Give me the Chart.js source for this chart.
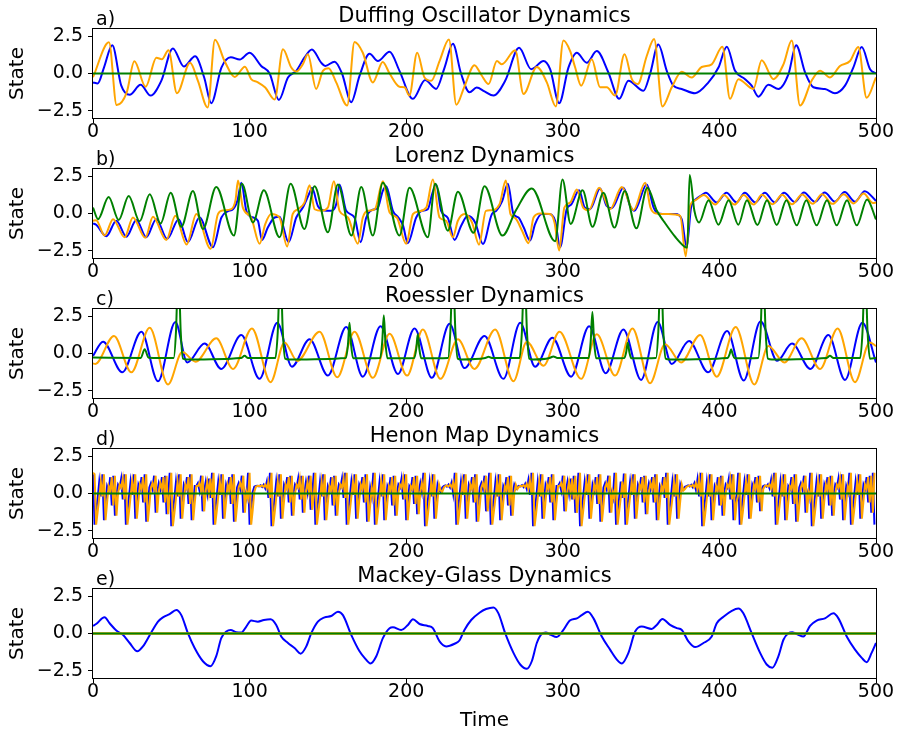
<!DOCTYPE html>
<html>
<head>
<meta charset="utf-8">
<title>Dynamics</title>
<script src="https://cdn.jsdelivr.net/npm/chart.js@4.4.1/dist/chart.umd.min.js"></script>
<style>
  html, body { margin: 0; padding: 0; background: #ffffff; }
  #figure { position: relative; width: 898px; height: 732px; overflow: hidden; }
  #figure canvas { position: absolute; left: 0; }
</style>
</head>
<body>
<div id="figure">
  <canvas id="duffingChart" width="898" height="150" style="top:0px"></canvas>
  <canvas id="lorenzChart" width="898" height="150" style="top:140px"></canvas>
  <canvas id="roesslerChart" width="898" height="150" style="top:280px"></canvas>
  <canvas id="henonChart" width="898" height="150" style="top:420px"></canvas>
  <canvas id="mackeyChart" width="898" height="172" style="top:560px"></canvas>
</div>
<script>
// tick labels
var xTickValues = [0, 100, 200, 300, 400, 500];
var yTickValues = [-2.5, 0.0, 2.5];

// a) Duffing, [time, state]
var duffingX = [[0,-0.6],[3,-0.67],[7,0.4],[12.3,1.9],[18,-0.8],[23.4,-1.44],[30.4,-0.76],[36.8,-1.49],[43.6,-0.5],[51,1.69],[58,0.47],[65.2,1.16],[71,-0.27],[75.5,-2.0],[82,0.4],[88,1.1],[93.7,0.94],[100,1.4],[107.4,0.51],[112.8,0],[118.7,-1.78],[124.5,-0.27],[129.8,0.18],[135,1.07],[139.8,1.62],[145.7,0.73],[148.3,0.51],[154.3,0.8],[159,0],[164.9,-1.93],[170.2,-0.16],[176.6,1.33],[181.9,0.84],[189.4,1.47],[195.7,0.18],[204.3,-1.71],[212.1,-0.44],[219.1,-1.04],[224.5,0.4],[229.8,2.0],[235,0],[240.4,-1.27],[245,-0.95],[250,-1.2],[255.7,-1.49],[263.2,-0.49],[272.1,1.73],[279.8,0.29],[287.7,0.84],[291.9,0.29],[297.7,-2.0],[303.6,0.4],[308.9,1.4],[315.3,0.73],[321.7,1.51],[329.1,0.07],[336,-1.71],[341.9,-0.49],[351.5,-1.16],[355.7,-0.04],[361,1.96],[366.4,0.18],[370.6,-0.82],[375.9,-1.04],[384.5,-1.33],[393,-0.6],[399.4,0.4],[404.7,1.8],[410,0.18],[416.4,-0.38],[420.6,-0.82],[424.9,-1.56],[431.3,-0.76],[437.7,-1.04],[444.1,-0.04],[449,1.91],[454.7,0.07],[460,-0.93],[467.4,-1.04],[473.8,-1.33],[480.2,-0.82],[485.5,0.4],[490.9,1.78],[496.2,0.29],[500,0.0]];
var duffingY = [[0,-0.25],[10.2,2.1],[15.1,-2.13],[21.5,-1.29],[26.4,0.83],[33.6,-0.89],[40.5,1.06],[44,0.96],[48.2,1.56],[53.6,-1.33],[62,0.72],[67,-0.49],[73.2,-2.29],[77.9,2.28],[84,0.84],[90.5,-0.23],[97,0.46],[101,-0.38],[105,-0.58],[110,-0.94],[116,-1.75],[121.3,1.63],[126.6,0.4],[129.8,0.13],[134,0.62],[137.2,1.29],[142.5,-1.04],[146.8,0.18],[150.4,0.36],[155.3,-0.6],[162.3,-2.16],[167,2.13],[172.3,1.4],[178.7,-0.6],[185,0.78],[189.4,0],[195.7,-0.89],[199,-0.93],[202,-1.49],[207,1.4],[211.7,-0.27],[216,-0.49],[221.3,0.84],[227.3,2.29],[232,-2.1],[237,-0.93],[243.6,0.56],[248,-0.1],[252.6,-0.71],[257.9,0.84],[261.1,0.62],[269.6,1.56],[274.9,-1.38],[283.4,0.44],[289.8,-0.6],[295.5,-2.22],[300.4,2.22],[304.7,1.51],[307.9,0.4],[311.7,-0.82],[318.5,0.96],[323.8,-0.93],[328.1,-0.93],[333.4,-1.49],[339.4,1.29],[344.1,-0.38],[347.9,-0.71],[353.6,1.18],[358.3,2.33],[363.6,-2.22],[369.6,-0.93],[375.9,0.11],[382.3,-0.27],[388.7,0.44],[395.1,0.62],[401.9,1.8],[406.8,-1.71],[412.1,-0.38],[421.7,-1.04],[427,0.89],[434.5,-0.38],[440.9,0.62],[446.2,2.22],[451.5,-2.16],[458.9,-0.49],[464.3,0.18],[470.6,-0.27],[477,0.51],[483.4,0.84],[488.7,1.78],[494,-1.64],[500,-0.27]];
var duffingZ = [[0,0],[500,0]];

// b) Lorenz
var lorenzX = [[0,-0.67],[2,-0.76],[8.5,-1.53],[14.9,-0.49],[21.3,-1.56],[27.7,-0.44],[34,-1.6],[40.4,-0.38],[47.4,-1.71],[54.7,-0.38],[60.6,-1.93],[68,-0.27],[76.6,-2.27],[82,-0.27],[86,0.15],[89.5,0.3],[92.3,0.9],[94.7,2.07],[97.9,0.18],[101,-0.22],[105.3,-0.49],[107.9,-1.78],[111.7,-0.93],[116,-0.27],[119.1,-0.22],[124.9,-1.93],[129.8,-0.27],[134,0.4],[138.3,1.4],[139.8,1.73],[143.6,0.51],[146.8,0.22],[152.1,0.18],[155.3,0.62],[157.4,1.96],[161.7,0.18],[167,-0.27],[170.9,-1.93],[174.5,-0.27],[178,0.22],[181.9,0.4],[185,1.51],[187.2,1.84],[191.5,0.18],[195,-0.27],[198,-0.82],[201,-2.0],[206.4,-0.27],[210,0.18],[213.8,0.29],[216.5,1.29],[219.1,1.96],[222.3,0.18],[226.6,-0.31],[230.9,-1.78],[235.1,-0.82],[239.4,-0.16],[244,-0.6],[249,-2.05],[254.7,-0.04],[257.5,0.18],[261.3,0.84],[264.9,2.0],[268.5,-0.04],[271.7,-0.27],[275,-0.93],[279.1,-1.82],[282.3,-0.71],[286.6,-0.04],[291,-0.04],[295.1,-0.49],[298.3,-2.27],[302.5,0.29],[305.5,0.62],[310.4,1.56],[314,0.4],[317.4,0.29],[323.8,1.69],[328,0.51],[331.3,0.36],[338.7,1.73],[343,0.5],[345.7,0.18],[353.6,1.96],[358,0.4],[361,0.0],[367.4,-0.04],[372,-0.04],[375.9,-0.38],[379.1,-2.27],[381.9,0.4],[385,0.96],[388.7,1.24],[391.3,1.4],[398.3,0.75],[404.5,1.4],[411,0.75],[416.2,1.4],[423,0.75],[429,1.4],[435.3,0.75],[441.3,1.4],[448.1,0.78],[454,1.42],[461,0.78],[467.2,1.42],[473.8,0.8],[480,1.45],[486.6,0.8],[492.8,1.5],[500,0.85]];
var lorenzY = [[0,-0.49],[2,-0.45],[7.4,-1.49],[12.8,-0.38],[20.2,-1.6],[25.5,-0.27],[33.4,-1.64],[38.3,-0.22],[46.8,-1.78],[52.6,-0.16],[59.8,-2.09],[66,-0.04],[75.1,-2.38],[79.8,-0.04],[83,0.2],[88.3,0.29],[91,0.9],[92.6,2.22],[95.7,0.4],[101,-0.27],[106.4,-2.04],[110,-0.71],[113.8,-0.04],[119.1,-0.27],[124,-2.22],[127.5,-0.04],[130.9,0.29],[135,0.73],[138.3,1.91],[141.5,0.29],[146,0.18],[150,0.4],[153.8,2.18],[157.4,0.18],[162.8,-0.27],[169.1,-2.04],[172.3,-0.27],[175.5,0.18],[180,0.29],[185.1,2.18],[189.4,0.07],[194,-0.27],[200,-2.04],[204.3,-0.04],[207.5,0.13],[212.8,0.4],[217,2.29],[221.3,-0.27],[225.5,-0.49],[229.8,-1.6],[233,-0.49],[237.2,-0.04],[242,-0.6],[246.5,-2.1],[250.9,0.18],[254,0.22],[259.6,0.62],[263.6,2.22],[266.6,-0.04],[269.6,-0.31],[274,-1.16],[278.1,-2.0],[281.3,-0.27],[285.5,0.0],[291.9,-0.04],[294.7,-0.6],[297.7,-2.49],[301,0.4],[304.7,0.73],[309,1.62],[313,0.4],[316.6,0.22],[323.2,1.73],[330.2,0.29],[337.7,1.78],[345.1,0.22],[352.6,2.07],[356,0.4],[360,0.0],[367.4,-0.04],[375,-0.16],[378.5,-2.89],[381.3,0.51],[384.5,0.89],[390,1.24],[397.4,0.6],[402.8,1.24],[409.6,0.6],[415.5,1.24],[421.9,0.6],[427.2,1.26],[434,0.62],[440,1.26],[446.4,0.62],[452.8,1.28],[459.6,0.65],[465.5,1.3],[472.3,0.65],[479.4,1.3],[485.7,0.68],[492.1,1.35],[498.1,0.7],[500,0.75]];
var lorenzZ = [[0,0.4],[3.2,-0.38],[10,1.11],[16.4,-0.44],[22.8,1.18],[29.8,-0.53],[36.2,1.29],[43.2,-0.67],[49.6,1.4],[56.4,-0.89],[63.8,1.51],[70.2,-1.04],[78.7,1.78],[90,-1.49],[95.1,2.0],[102.1,-0.6],[109.1,1.56],[119.1,-1.6],[126.2,2.0],[135,-1.04],[141.5,1.84],[150,-1.27],[156.4,1.96],[165,-1.49],[171.3,1.78],[178.7,-1.49],[185.1,2.07],[195.7,-1.49],[202.1,1.73],[213.8,-1.6],[218.5,2.0],[226.6,-1.16],[233,1.47],[243,-1.3],[250,1.84],[261.5,-1.49],[270,0.2],[280.2,1.69],[295.1,-1.87],[299.8,2.29],[305,-0.7],[312.6,1.56],[319,-0.9],[325.9,1.4],[333,-0.95],[339.6,1.51],[347,-1.0],[354,1.73],[360,0.2],[365,-0.6],[372,-1.6],[378,-2.25],[379.5,-2.3],[381,2.6],[384,0.2],[387,-0.6],[393.1,0.9],[399.4,-0.75],[405.9,0.9],[412.1,-0.75],[417.6,0.9],[424.3,-0.78],[430.4,0.9],[436.6,-0.78],[442.8,0.9],[449.4,-0.8],[455.5,0.9],[462.1,-0.8],[468.7,0.9],[474.9,-0.8],[481.5,0.9],[487.7,-0.8],[494.3,0.95],[500,-0.4]];

// c) Roessler
var roesslerX = [[0,-0.16],[6.4,0.8],[18.7,-1.27],[30.9,1.47],[41.5,-1.87],[52.6,2.13],[60.2,-0.6],[71.3,0.67],[81.9,-1.04],[94.7,1.24],[106.4,-1.71],[117.7,2.07],[127,-0.89],[138.3,0.96],[150,-1.49],[161.7,1.78],[172.3,-1.56],[183.6,1.84],[194.7,-1.38],[205.3,1.69],[216.4,-1.64],[227.7,2.0],[237.2,-0.98],[250,1.18],[262.1,-1.71],[272.8,2.07],[282.3,-0.89],[293.4,1.07],[305.3,-1.56],[316.8,1.84],[327.4,-1.33],[338.7,1.62],[350,-1.78],[360.6,2.13],[369.6,-0.71],[380.6,0.84],[392.8,-1.27],[404.9,1.51],[415.5,-1.82],[426.3,2.18],[436.9,-0.49],[446.4,0.67],[458.1,-1.04],[469.6,1.24],[480.2,-1.78],[491.3,2.07],[500,-0.6]];
var roesslerY = [[0,-0.67],[1.5,-0.7],[13.4,1.18],[24.5,-1.27],[36.2,1.73],[47.9,-2.09],[57,0.1],[65.5,-0.55],[78.7,1.02],[89.4,-1.04],[101.5,1.69],[113.4,-1.93],[122.3,0.75],[130.4,-0.5],[144.7,1.47],[156,-1.6],[167,1.47],[178.7,-1.64],[189.4,1.33],[200.6,-1.49],[210.6,1.62],[221.9,-1.71],[233,0.96],[243.6,-1.04],[256.8,1.62],[268.5,-1.87],[277,0.8],[287.7,-0.82],[297.9,1.47],[311.7,-1.71],[321.7,1.29],[333.4,-1.49],[344.5,1.69],[355.7,-2.0],[365.3,0.62],[375.5,-0.6],[387.7,1.24],[398.3,-1.56],[410.4,1.78],[422.3,-2.09],[431.3,0.51],[441.5,-0.6],[452.5,1.02],[464.3,-1.04],[475.5,1.69],[486.6,-1.93],[496,0.75],[500,0.5]];
var roesslerZ = [[0,-0.27],[30.5,-0.3],[33,0.29],[35.5,-0.28],[51.5,-0.3],[53,1.5],[54.5,6],[56,1.5],[57.5,-0.35],[60,-0.4],[94.5,-0.3],[96.8,-0.16],[99,-0.3],[116.5,-0.3],[118,1.5],[119.6,6],[121.2,1.5],[122.7,-0.35],[125,-0.4],[161.5,-0.3],[162.8,0.6],[163.8,2.07],[164.8,0.6],[166.1,-0.32],[183.4,-0.3],[184.7,0.8],[185.7,2.58],[186.7,0.8],[188,-0.32],[205.2,-0.3],[206.4,0.3],[207.4,1.29],[208.4,0.3],[209.6,-0.32],[226.7,-0.3],[228.2,1.5],[229.8,6],[231.4,1.5],[232.9,-0.35],[235,-0.4],[250.5,-0.3],[252.6,-0.22],[254.7,-0.3],[272.4,-0.3],[273.9,1.5],[275.5,6],[277.1,1.5],[278.6,-0.35],[281,-0.4],[291.5,-0.3],[294,-0.2],[296.5,-0.3],[316.5,-0.3],[317.8,0.8],[318.9,2.8],[320,0.8],[321.3,-0.32],[339.3,-0.3],[340.5,0.1],[341.5,0.73],[342.5,0.1],[343.7,-0.32],[359.5,-0.3],[361,1.5],[362.6,6],[364.2,1.5],[365.7,-0.35],[368,-0.4],[405.3,-0.3],[406.5,-0.05],[407.5,0.29],[408.5,-0.05],[409.7,-0.32],[424.8,-0.3],[426.3,1.5],[427.9,6],[429.5,1.5],[431,-0.35],[433.5,-0.4],[468.3,-0.3],[470.6,-0.16],[472.9,-0.3],[489.9,-0.3],[491.4,1.5],[493,6],[494.6,1.5],[496.1,-0.35],[500,-0.3]];

// d) Henon map, one value per step
var henonX = [
  1.3, -2.1, -1.2, -0.3, 0.8, -0.2, 1.3, -1.8, -0.6, 0.5,
  0.2, 1.1, -0.8, 1.2, -1.5, 0.0, 0.6, 0.4, 1.0, -0.4,
  1.3, -2.1, -1.2, -0.2, 0.8, -0.1, 1.3, -1.7, -0.5, 0.6,
  0.3, 1.1, -0.6, 1.3, -1.9, -0.8, 0.4, 0.7, 0.3, 1.2,
  -1.3, 0.1, 0.7, 0.3, 1.1, -0.6, 1.2, -1.4, -0.1, 1.4,
  -2.2, -1.3, -0.3, 0.8, -0.2, 1.3, -1.7, -0.5, 0.6, 0.3,
  1.1, -0.7, 1.3, -1.8, -0.6, 0.5, 0.5, 0.7, 0.2, 1.2,
  -1.2, 0.2, 0.8, 0.0, 1.0, -0.3, 1.4, -2.1, -1.2, -0.2,
  0.8, -0.1, 1.3, -1.7, -0.5, 0.6, 0.2, 1.1, -0.7, 1.3,
  -1.9, -0.8, 0.4, 0.7, 0.3, 1.2, -1.3, 0.1, -0.3, 1.4,
  -2.1, -1.1, 0.1, 0.45, 0.5, 0.52, 0.48, 0.55, 0.44, 0.6,
  0.35, 0.8, -0.3, 1.4, -2.2, -1.3, -0.3, 0.8, -0.2, 1.3,
  -1.7, -0.5, 0.6, 0.3, 1.1, -0.6, 1.2, -1.5, 0.0, 0.6,
  0.4, 1.0, -0.4, 1.2, -1.3, 0.1, 0.8, 0.1, 1.2, -1.1,
  -0.1, 1.4, -2.1, -1.2, -0.3, 0.8, -0.2, 1.3, -1.8, -0.6,
  0.5, 0.2, 1.1, -0.8, 1.2, -1.5, 0.0, 0.6, 0.4, 1.0,
  -0.3, 1.4, -2.1, -1.2, -0.2, 0.8, -0.1, 1.3, -1.7, -0.5,
  0.6, 0.3, 1.1, -0.6, 1.3, -1.9, -0.8, 0.4, -0.2, 1.4,
  -2.1, -1.2, -0.3, 0.8, -0.2, 1.3, -1.8, -0.6, 0.5, 0.2,
  1.1, -0.8, 1.2, -1.5, 0.0, 0.6, 0.4, 1.0, -0.4, 1.3,
  -1.8, -0.6, 0.5, 0.3, 1.1, -0.7, 1.2, -1.4, 0.1, 0.7,
  0.1, 1.4, -2.2, -1.3, -0.3, 0.8, -0.2, 1.3, -1.7, -0.5,
  0.6, 0.2, 0.1, 0.4, 0.5, 0.55, 0.47, 0.6, 0.4, 0.75,
  0.0, 1.4, -2.1, -1.2, -0.2, 0.8, -0.1, 1.3, -1.7, -0.5,
  0.6, 0.3, 1.1, -0.6, 1.3, -1.9, -0.8, 0.4, 0.7, 0.3,
  1.2, -1.2, -0.1, 1.4, -2.1, -1.2, -0.3, 0.8, -0.2, 1.3,
  -1.8, -0.6, 0.5, 0.2, 1.1, -0.8, 1.2, -1.5, 0.0, 0.6,
  0.3, 0.45, 0.52, 0.48, 0.56, 0.43, 0.65, 0.3, 0.9, -0.1,
  1.4, -2.2, -1.3, -0.3, 0.8, -0.2, 1.3, -1.7, -0.5, 0.6,
  0.3, 1.1, -0.6, 1.3, -1.8, -0.6, 0.5, 0.5, 0.7, 0.2,
  1.2, -1.2, 0.2, 0.8, 0.0, 1.0, -0.4, 1.2, -1.3, -0.2,
  1.4, -2.2, -1.2, -0.2, 0.8, -0.1, 1.3, -1.7, -0.5, 0.6,
  0.2, 1.1, -0.7, 1.3, -1.9, -0.8, 0.4, 0.7, 0.3, 1.2,
  -1.3, 0.1, -0.3, 1.4, -2.1, -1.2, -0.3, 0.8, -0.3, 1.35,
  -2.1, -1.1, -0.2, 0.8, -0.1, 1.3, -1.7, -0.5, 0.6, 0.3,
  1.1, -0.6, 1.2, -1.4, 0.1, 0.7, 0.3, 1.1, -0.6, 1.3,
  -1.8, -0.6, 0.5, 0.2, 1.1, -0.3, 1.4, -2.1, -1.2, -0.3,
  0.8, -0.2, 1.3, -1.7, -0.5, 0.6, 0.2, 0.3, 0.45, 0.5,
  0.55, 0.48, 0.58, 0.42, 0.7, 0.25, 0.95, -0.2, 1.4, -2.2,
  -1.3, -0.3, 0.8, -0.2, 1.3, -1.8, -0.6, 0.5, 0.2, 1.1,
  -0.8, 1.2, -1.5, 0.0, 0.6, 0.4, 1.0, -0.4, 1.3, -1.8,
  -0.6, -0.1, 1.4, -2.1, -1.2, -0.2, 0.8, -0.1, 1.3, -1.7,
  -0.5, 0.6, 0.3, 1.1, -0.6, 1.2, -1.2, 0.3, 0.5, 0.55,
  0.47, 0.62, 0.35, 0.9, -0.2, 1.4, -2.1, -1.2, -0.3, 0.8,
  -0.2, 1.3, -1.8, -0.6, 0.5, 0.3, 1.1, -0.7, 1.3, -1.9,
  -0.8, 0.4, 0.7, 0.3, 1.2, -1.3, 0.1, -0.3, 1.4, -2.2,
  -1.3, -0.3, 0.8, -0.2, 1.3, -1.7, -0.5, 0.6, 0.2, 1.1,
  -0.8, 1.2, -1.5, 0.0, 0.6, 0.4, 1.0, -0.4, 1.3, -1.8,
  -0.6, 0.5, 0.1, 1.4, -2.1, -1.2, -0.2, 0.8, -0.1, 1.3,
  -1.7, -0.5, 0.6, 0.3, 1.1, -0.6, 1.2, -1.3, 1.4, -2.1
];
var henonY = [
  1.4, 1.3, -2.1, -1.2, -0.3, 0.8, -0.2, 1.3, -1.8, -0.6,
  0.5, 0.2, 1.1, -0.8, 1.2, -1.5, 0.0, 0.6, 0.4, 1.0,
  -0.4, 1.3, -2.1, -1.2, -0.2, 0.8, -0.1, 1.3, -1.7, -0.5,
  0.6, 0.3, 1.1, -0.6, 1.3, -1.9, -0.8, 0.4, 0.7, 0.3,
  1.2, -1.3, 0.1, 0.7, 0.3, 1.1, -0.6, 1.2, -1.4, -0.1,
  1.4, -2.2, -1.3, -0.3, 0.8, -0.2, 1.3, -1.7, -0.5, 0.6,
  0.3, 1.1, -0.7, 1.3, -1.8, -0.6, 0.5, 0.5, 0.7, 0.2,
  1.2, -1.2, 0.2, 0.8, 0.0, 1.0, -0.3, 1.4, -2.1, -1.2,
  -0.2, 0.8, -0.1, 1.3, -1.7, -0.5, 0.6, 0.2, 1.1, -0.7,
  1.3, -1.9, -0.8, 0.4, 0.7, 0.3, 1.2, -1.3, 0.1, -0.3,
  1.4, -2.1, -1.1, 0.1, 0.45, 0.5, 0.52, 0.48, 0.55, 0.44,
  0.6, 0.35, 0.8, -0.3, 1.4, -2.2, -1.3, -0.3, 0.8, -0.2,
  1.3, -1.7, -0.5, 0.6, 0.3, 1.1, -0.6, 1.2, -1.5, 0.0,
  0.6, 0.4, 1.0, -0.4, 1.2, -1.3, 0.1, 0.8, 0.1, 1.2,
  -1.1, -0.1, 1.4, -2.1, -1.2, -0.3, 0.8, -0.2, 1.3, -1.8,
  -0.6, 0.5, 0.2, 1.1, -0.8, 1.2, -1.5, 0.0, 0.6, 0.4,
  1.0, -0.3, 1.4, -2.1, -1.2, -0.2, 0.8, -0.1, 1.3, -1.7,
  -0.5, 0.6, 0.3, 1.1, -0.6, 1.3, -1.9, -0.8, 0.4, -0.2,
  1.4, -2.1, -1.2, -0.3, 0.8, -0.2, 1.3, -1.8, -0.6, 0.5,
  0.2, 1.1, -0.8, 1.2, -1.5, 0.0, 0.6, 0.4, 1.0, -0.4,
  1.3, -1.8, -0.6, 0.5, 0.3, 1.1, -0.7, 1.2, -1.4, 0.1,
  0.7, 0.1, 1.4, -2.2, -1.3, -0.3, 0.8, -0.2, 1.3, -1.7,
  -0.5, 0.6, 0.2, 0.1, 0.4, 0.5, 0.55, 0.47, 0.6, 0.4,
  0.75, 0.0, 1.4, -2.1, -1.2, -0.2, 0.8, -0.1, 1.3, -1.7,
  -0.5, 0.6, 0.3, 1.1, -0.6, 1.3, -1.9, -0.8, 0.4, 0.7,
  0.3, 1.2, -1.2, -0.1, 1.4, -2.1, -1.2, -0.3, 0.8, -0.2,
  1.3, -1.8, -0.6, 0.5, 0.2, 1.1, -0.8, 1.2, -1.5, 0.0,
  0.6, 0.3, 0.45, 0.52, 0.48, 0.56, 0.43, 0.65, 0.3, 0.9,
  -0.1, 1.4, -2.2, -1.3, -0.3, 0.8, -0.2, 1.3, -1.7, -0.5,
  0.6, 0.3, 1.1, -0.6, 1.3, -1.8, -0.6, 0.5, 0.5, 0.7,
  0.2, 1.2, -1.2, 0.2, 0.8, 0.0, 1.0, -0.4, 1.2, -1.3,
  -0.2, 1.4, -2.2, -1.2, -0.2, 0.8, -0.1, 1.3, -1.7, -0.5,
  0.6, 0.2, 1.1, -0.7, 1.3, -1.9, -0.8, 0.4, 0.7, 0.3,
  1.2, -1.3, 0.1, -0.3, 1.4, -2.1, -1.2, -0.3, 0.8, -0.3,
  1.35, -2.1, -1.1, -0.2, 0.8, -0.1, 1.3, -1.7, -0.5, 0.6,
  0.3, 1.1, -0.6, 1.2, -1.4, 0.1, 0.7, 0.3, 1.1, -0.6,
  1.3, -1.8, -0.6, 0.5, 0.2, 1.1, -0.3, 1.4, -2.1, -1.2,
  -0.3, 0.8, -0.2, 1.3, -1.7, -0.5, 0.6, 0.2, 0.3, 0.45,
  0.5, 0.55, 0.48, 0.58, 0.42, 0.7, 0.25, 0.95, -0.2, 1.4,
  -2.2, -1.3, -0.3, 0.8, -0.2, 1.3, -1.8, -0.6, 0.5, 0.2,
  1.1, -0.8, 1.2, -1.5, 0.0, 0.6, 0.4, 1.0, -0.4, 1.3,
  -1.8, -0.6, -0.1, 1.4, -2.1, -1.2, -0.2, 0.8, -0.1, 1.3,
  -1.7, -0.5, 0.6, 0.3, 1.1, -0.6, 1.2, -1.2, 0.3, 0.5,
  0.55, 0.47, 0.62, 0.35, 0.9, -0.2, 1.4, -2.1, -1.2, -0.3,
  0.8, -0.2, 1.3, -1.8, -0.6, 0.5, 0.3, 1.1, -0.7, 1.3,
  -1.9, -0.8, 0.4, 0.7, 0.3, 1.2, -1.3, 0.1, -0.3, 1.4,
  -2.2, -1.3, -0.3, 0.8, -0.2, 1.3, -1.7, -0.5, 0.6, 0.2,
  1.1, -0.8, 1.2, -1.5, 0.0, 0.6, 0.4, 1.0, -0.4, 1.3,
  -1.8, -0.6, 0.5, 0.1, 1.4, -2.1, -1.2, -0.2, 0.8, -0.1,
  1.3, -1.7, -0.5, 0.6, 0.3, 1.1, -0.6, 1.2, -1.3, 1.4
];
var henonZ = [[0,0],[500,0]];

// e) Mackey-Glass
var mackeyX = [[0,0.51],[2,0.64],[7.4,1.09],[10.6,0.69],[14.9,0.2],[19.1,-0.09],[23.4,-0.64],[28.3,-1.2],[31.9,-0.87],[37.2,0.07],[41.5,0.8],[44.7,1.09],[48.9,1.31],[53.2,1.58],[56.4,1.24],[60.6,0.02],[64.9,-0.98],[70.2,-1.87],[75.1,-2.2],[78.7,-1.53],[81.9,-0.31],[85.1,0.13],[87.9,0.24],[91.5,0.09],[94.7,0.07],[97.9,0.47],[101,0.87],[105.3,0.8],[109.1,0.91],[113.4,0.96],[117,0.58],[120.2,-0.2],[124.5,-0.64],[128.7,-0.98],[132.6,-1.36],[136.2,-0.87],[139.4,0.02],[143.6,0.8],[147.9,1.09],[152.1,1.18],[156.4,1.47],[159.6,1.24],[164.9,-0.09],[170.2,-1.2],[173.4,-1.64],[177.2,-2.02],[180.9,-1.53],[185.1,-0.31],[189.4,0.36],[191.5,0.42],[196.8,0.24],[201.1,0.58],[204.3,0.96],[208.5,0.64],[213.8,0.51],[217,0.36],[221.3,-0.53],[225.5,-0.87],[230.9,-0.69],[234,-0.47],[237.2,0.24],[241.5,0.91],[246.8,1.4],[251,1.65],[255.7,1.76],[258.9,1.36],[263.2,0.02],[268.5,-1.31],[272.8,-2.09],[277,-2.38],[280.2,-1.87],[283.4,-0.64],[286.6,-0.02],[289.1,0.07],[292.3,-0.09],[296.1,-0.24],[300.4,0.24],[304.5,0.87],[309,1.02],[312.1,1.24],[316,1.47],[319.6,1.02],[324.9,-0.2],[330.2,-1.09],[334.5,-1.76],[337.7,-2.02],[341.9,-1.31],[346.2,0.13],[350.4,0.47],[356.8,0.31],[360,0.58],[363.6,0.98],[368.5,0.58],[372.8,0.36],[376,0.24],[380.2,-0.53],[384.5,-0.91],[389.8,-0.64],[395.1,-0.2],[398.3,0.69],[402.6,1.13],[407.9,1.53],[412.1,1.69],[415.3,1.36],[420.6,0.02],[426,-1.31],[430.2,-2.09],[433.8,-2.31],[437.7,-1.53],[440.9,-0.42],[444,0.02],[446.6,0.09],[450.4,-0.09],[453.6,-0.2],[457.9,0.51],[462.1,0.87],[467.4,1.02],[472.8,1.36],[476,1.02],[481.3,-0.2],[486.6,-1.09],[490.9,-1.64],[494,-1.93],[497.2,-1.31],[500,-0.64]];
var mackeyY = [[0,0],[500,0]];
var mackeyZ = [[0,0],[500,0]];

var BLUE = "#0000ff";
var ORANGE = "#ffa500";
var GREEN = "#008000";
var TICK_FONT = { family: "'DejaVu Sans', sans-serif", size: 19 };
var LABEL_FONT = { family: "'DejaVu Sans', sans-serif", size: 20 };
var TITLE_CSS = "21px 'DejaVu Sans', sans-serif";
var TAG_CSS = "19px 'DejaVu Sans', sans-serif";

function smoothLine(points, color, order, width) {
  return {
    data: points.map(function (p) { return { x: p[0], y: p[1] }; }),
    borderColor: color,
    borderWidth: width || 2,
    pointRadius: 0,
    fill: false,
    cubicInterpolationMode: "monotone",
    order: order,
    clip: 0,
  };
}

function stepLine(values, color, order) {
  return {
    data: values.map(function (v, i) { return { x: i, y: v }; }),
    borderColor: color,
    borderWidth: 2,
    pointRadius: 0,
    fill: false,
    tension: 0,
    order: order,
    clip: 0,
  };
}

function fmtState(v) {
  return Number(v).toFixed(1).replace("-", "\u2212");
}

// frame around the plot + panel title + letter
var framePlugin = {
  id: "frame",
  afterDraw: function (chart, args, opts) {
    var ctx = chart.ctx;
    var a = chart.chartArea;
    ctx.save();
    ctx.strokeStyle = "#000";
    ctx.lineWidth = 1;
    ctx.strokeRect(Math.round(a.left) - 0.5, Math.round(a.top) - 0.5,
      Math.round(a.right - a.left) + 1, Math.round(a.bottom - a.top) + 1);
    ctx.fillStyle = "#000";
    ctx.textBaseline = "alphabetic";
    ctx.font = TITLE_CSS;
    ctx.textAlign = "center";
    ctx.fillText(opts.title, (a.left + a.right) / 2, a.top - 7);
    ctx.font = TAG_CSS;
    ctx.textAlign = "left";
    ctx.fillText(opts.tag, a.left + 3, a.top - 4);
    ctx.restore();
  },
};

function makePanel(id, title, tag, datasets, showTime) {
  var canvas = document.getElementById(id);
  var axisHeight = canvas.height - 118;
  return new Chart(canvas.getContext("2d"), {
    type: "line",
    data: { datasets: datasets },
    options: {
      responsive: false,
      animation: false,
      devicePixelRatio: 1,
      layout: { padding: { left: 0, right: 22, top: 29, bottom: 0 } },
      scales: {
        x: {
          type: "linear",
          min: 0,
          max: 500,
          afterBuildTicks: function (s) {
            s.ticks = xTickValues.map(function (v) { return { value: v }; });
          },
          afterFit: function (s) { s.height = axisHeight; },
          ticks: {
            font: TICK_FONT,
            color: "#000",
            padding: -2,
            maxRotation: 0,
            autoSkip: false,
            callback: function (v) { return String(v); },
          },
          grid: { drawOnChartArea: false, tickLength: 5, color: "#000" },
          border: { display: false },
          title: {
            display: showTime,
            text: "Time",
            font: LABEL_FONT,
            color: "#000",
            padding: { top: 0, bottom: -1 },
          },
        },
        y: {
          min: -3,
          max: 3,
          afterBuildTicks: function (s) {
            s.ticks = yTickValues.map(function (v) { return { value: v }; });
          },
          afterFit: function (s) { s.width = 93; },
          ticks: { font: TICK_FONT, color: "#000", padding: 5, callback: fmtState },
          grid: { drawOnChartArea: false, tickLength: 5, color: "#000" },
          border: { display: false },
          title: {
            display: true,
            text: "State",
            font: LABEL_FONT,
            color: "#000",
            padding: { top: 6, bottom: 0 },
          },
        },
      },
      plugins: {
        legend: { display: false },
        tooltip: { enabled: false },
        frame: { title: title, tag: tag },
      },
    },
    plugins: [framePlugin],
  });
}

makePanel("duffingChart", "Duffing Oscillator Dynamics", "a)", [
  smoothLine(duffingX, BLUE, 3),
  smoothLine(duffingY, ORANGE, 2),
  smoothLine(duffingZ, GREEN, 1),
], false);

makePanel("lorenzChart", "Lorenz Dynamics", "b)", [
  smoothLine(lorenzX, BLUE, 3),
  smoothLine(lorenzY, ORANGE, 2),
  smoothLine(lorenzZ, GREEN, 1),
], false);

makePanel("roesslerChart", "Roessler Dynamics", "c)", [
  smoothLine(roesslerX, BLUE, 3),
  smoothLine(roesslerY, ORANGE, 2),
  smoothLine(roesslerZ, GREEN, 1),
], false);

makePanel("henonChart", "Henon Map Dynamics", "d)", [
  stepLine(henonX, BLUE, 3),
  stepLine(henonY, ORANGE, 2),
  smoothLine(henonZ, GREEN, 1),
], false);

makePanel("mackeyChart", "Mackey-Glass Dynamics", "e)", [
  smoothLine(mackeyX, BLUE, 3),
  smoothLine(mackeyY, ORANGE, 2, 2.3),
  smoothLine(mackeyZ, GREEN, 1),
], true);
</script>
</body>
</html>
